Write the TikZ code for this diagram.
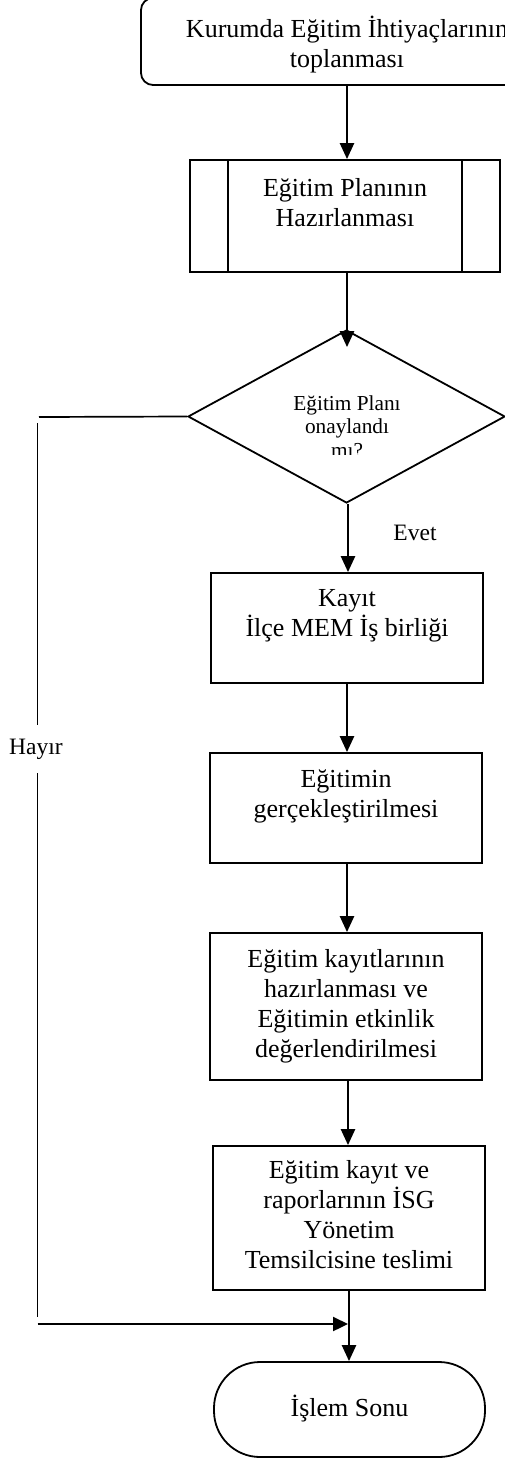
\documentclass[tikz,border=0pt]{standalone}
\usepackage{fontspec}
\setmainfont{Liberation Serif}
\usetikzlibrary{shapes.geometric,arrows.meta}
\newcommand{\flstrut}{\rule{0pt}{25pt}}
\newcommand{\dmstrut}{\rule{0pt}{20pt}}
\begin{document}
\begin{tikzpicture}[x=1pt,y=-1pt,
  boxst/.style={draw,line width=1.8pt,inner sep=0pt},
  bigtext/.style={font=\fontsize{26}{30}\selectfont,align=center,inner sep=0pt,anchor=north},
  dtext/.style={font=\fontsize{21.3}{23.5}\selectfont,align=center,inner sep=0pt,anchor=north},
  arr/.style={line width=2.5pt,-{Triangle[length=16pt,width=14pt]}},
  lbl/.style={font=\fontsize{23.5}{27}\selectfont,inner sep=0pt},
  thinln/.style={line width=1.7pt}]
\clip (0,0) rectangle (505,1458);
\fill[white] (0,0) rectangle (505,1458);

% boxes
\node[boxst,rounded corners=12pt,minimum width=414pt,minimum height=87pt] (b1) at (348,41.5) {};
\node[boxst,minimum width=310pt,minimum height=112pt] (b2) at (345,216) {};
\draw[line width=1.8pt] ([xshift=39pt]b2.north west) -- ([xshift=39pt]b2.south west);
\draw[line width=1.8pt] ([xshift=-39pt]b2.north east) -- ([xshift=-39pt]b2.south east);
\node[boxst,diamond,minimum width=317pt,minimum height=173pt] (d) at (346.5,416.5) {};
\node[boxst,minimum width=272pt,minimum height=110pt] (b3) at (347,628) {};
\node[boxst,minimum width=272pt,minimum height=110pt] (b4) at (346,808) {};
\node[boxst,minimum width=272pt,minimum height=147pt] (b5) at (346,1006.5) {};
\node[boxst,minimum width=272pt,minimum height=144pt] (b6) at (349,1218) {};
\node[boxst,rounded corners=46pt,minimum width=271pt,minimum height=95pt] (term) at (349.5,1409.5) {};

% texts
\node[bigtext] (t1) at (347,12) {\flstrut Kurumda Eğitim İhtiyaçlarının\\toplanması};
\node[bigtext] (t2) at ([yshift=-12pt]b2.north) {\flstrut Eğitim Planının\\Hazırlanması};
\begin{scope}
\clip (190,380) rectangle (500,454);
\node[dtext] (td) at (347,390) {\dmstrut Eğitim Planı\\onaylandı\\mı?};
\end{scope}
\node[bigtext] (t3) at ([yshift=-9pt]b3.north) {\flstrut Kayıt\\İlçe MEM İş birliği};
\node[bigtext] (t4) at ([yshift=-10pt]b4.north) {\flstrut Eğitimin\\gerçekleştirilmesi};
\node[bigtext] (t5) at ([yshift=-10pt]b5.north) {\flstrut Eğitim kayıtlarının\\hazırlanması ve\\Eğitimin etkinlik\\değerlendirilmesi};
\node[bigtext] (t6) at ([yshift=-8pt]b6.north) {\flstrut Eğitim kayıt ve\\raporlarının İSG\\Yönetim\\Temsilcisine teslimi};
\node[bigtext] (tt) at ([yshift=-30pt]term.north) {\flstrut İşlem Sonu};

% labels
\node[lbl] (evet) at (415,533) {Evet};
\node[lbl,text height=16pt,text depth=5pt,inner ysep=13.5pt] (hayir) at (36,749) {Hayır};

% main flow
\draw[arr] (b1.south -| 347,0) -- (b2.north -| 347,0);
\draw[arr] (b2.south -| 347,0) -- ([yshift=-18pt]d.north -| 347,0);
\draw[arr] (d.south -| 348,0) -- (b3.north -| 348,0);
\draw[arr] (b3.south -| 347,0) -- (b4.north -| 347,0);
\draw[arr] (b4.south -| 347,0) -- (b5.north -| 347,0);
\draw[arr] (b5.south -| 348,0) -- (b6.north -| 348,0);
\draw[arr] (b6.south -| 349,0) -- (term.north -| 349,0);

% Hayir path
\coordinate (h1) at (39,417);
\coordinate (h2) at (37.5,423);
\coordinate (h3) at (37.5,1317);
\coordinate (h4) at (37.5,1324);
\coordinate (j) at (348,1324);
\draw[thinln] (d.west) -- (h1);
\draw[thinln] (h2) -- (hayir.north -| h2);
\draw[thinln] (hayir.south -| h3) -- (h3);
\draw[line width=2.3pt,-{Triangle[length=15pt,width=14pt]}] (h4) -- (j);
\end{tikzpicture}
\end{document}
